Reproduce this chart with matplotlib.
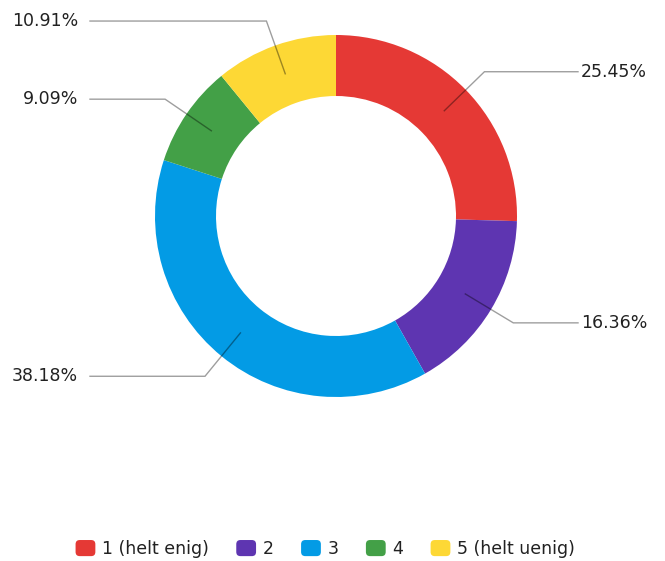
import matplotlib
matplotlib.use("Agg")
import matplotlib.pyplot as plt
import numpy as np
from matplotlib.patches import FancyBboxPatch, Patch
from matplotlib.legend_handler import HandlerPatch

categories = ["1 (helt enig)", "2", "3", "4", "5 (helt uenig)"]
shares = [25.45, 16.36, 38.18, 9.09, 10.91]
colors = ["#e53935", "#5e35b1", "#039be5", "#43a047", "#fdd835"]

plt.rcParams["font.family"] = ["DejaVu Sans"]

W, H = 665, 561
fig = plt.figure(figsize=(W / 100, H / 100), dpi=100)
ax = fig.add_axes([0, 0, 1, 1])

cx, cy = 336, 345
r_out = 181
r_in = 120

wedges, _ = ax.pie(shares, colors=colors, startangle=90, counterclock=False,
                   center=(cx, cy), radius=r_out, frame=True,
                   wedgeprops=dict(width=r_out - r_in, linewidth=0))
ax.set_xlim(0, W)
ax.set_ylim(0, H)
ax.set_aspect("equal")
ax.axis("off")

# leader lines: from the ring, out along the mid-angle, then horizontal
for w, val in zip(wedges, shares):
    mid = np.deg2rad((w.theta1 + w.theta2) / 2)
    dx, dy = np.cos(mid), np.sin(mid)
    x0, y0 = cx + 151 * dx, cy + 151 * dy
    x1, y1 = cx + 207 * dx, cy + 207 * dy
    right = dx > 0
    x2 = 578 if right else 90
    ax.plot([x0, x1, x2], [y0, y1, y1], color="black", alpha=0.38, lw=1,
            solid_joinstyle="miter")
    ax.text(x2 + 3 if right else x2 - 12, y1, f"{val:.2f}%",
            ha="left" if right else "right", va="center",
            fontsize=12.5, color="#212121")


class RoundBox(HandlerPatch):
    def create_artists(self, legend, orig_handle, xdescent, ydescent,
                       width, height, fontsize, trans):
        p = FancyBboxPatch((-xdescent + 1, -ydescent), width - 2, height,
                           boxstyle="round,pad=0,rounding_size=3",
                           facecolor=orig_handle.get_facecolor(), edgecolor="none",
                           transform=trans)
        return [p]


handles = [Patch(facecolor=c) for c in colors]
fig.legend(handles, categories, loc="center", bbox_to_anchor=(0.488, 1 - 549 / H),
           ncol=5, frameon=False, fontsize=12.5, handlelength=1.3, handleheight=1.05,
           handletextpad=0.3, columnspacing=1.5, labelcolor="#212121",
           handler_map={Patch: RoundBox()})

fig.savefig("out.png", dpi=100, facecolor="white")
